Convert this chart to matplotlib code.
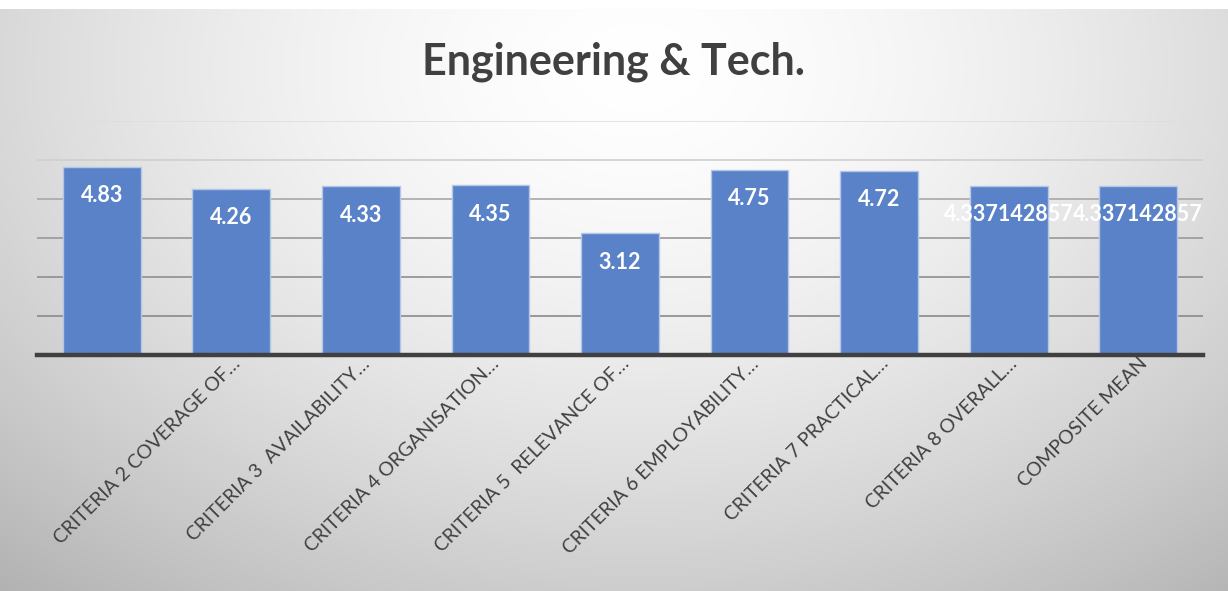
import numpy as np
import matplotlib.pyplot as plt
import matplotlib.transforms as mtransforms

# data
categories = ["",
              "CRITERIA 2 COVERAGE OF\u2026",
              "CRITERIA 3  AVAILABILITY\u2026",
              "CRITERIA 4 ORGANISATION\u2026",
              "CRITERIA 5  RELEVANCE OF\u2026",
              "CRITERIA 6 EMPLOYABILITY\u2026",
              "CRITERIA 7 PRACTICAL\u2026",
              "CRITERIA 8 OVERALL\u2026",
              "COMPOSITE MEAN"]
values = [4.83, 4.26, 4.33, 4.35, 3.12, 4.75, 4.72, 4.337142857, 4.337142857]
value_labels = ["4.83", "4.26", "4.33", "4.35", "3.12", "4.75", "4.72",
                "4.337142857", "4.337142857"]
title = "Engineering & Tech."

plt.rcParams['font.family'] = ['Lato', 'DejaVu Sans']

W, H = 1228, 591
fig = plt.figure(figsize=(W / 100, H / 100), dpi=100)

# background: soft radial gradient like the Office chart style
bg = fig.add_axes([0, 0, 1, 1 - 9 / H], zorder=-10)
yy, xx = np.mgrid[0:1:300j, 0:1:600j]
r = np.sqrt(((xx - 0.52) / 0.75) ** 2 + ((yy - 0.1) / 1.1) ** 2)
shade = 1.0 - 0.27 * np.clip(r, 0, 1.2) ** 1.6
bg.imshow(np.dstack([shade] * 3), aspect='auto', extent=[0, 1, 0, 1], origin='upper')
bg.axis('off')

ax = fig.add_axes([37 / W, 1 - 355 / H, (1203 - 37) / W, (355 - 121) / H])
ax.patch.set_alpha(0)

x = np.arange(len(values))
bars = ax.bar(x, values, width=0.6, color='#5A82C8', edgecolor='#B4C6E7',
              linewidth=1.0, zorder=3)

# gridlines, lighter towards the top
grid_cols = {1: '#8a8a8a', 2: '#8f8f8f', 3: '#999999', 4: '#a8a8a8', 5: '#cfcfcf', 6: '#dedede'}
for lvl, c in grid_cols.items():
    ax.axhline(lvl, color=c, linewidth=1.2, zorder=1)
ax.axhline(0, color='#404040', linewidth=3.2, zorder=4, clip_on=False)

for b, lab in zip(bars, value_labels):
    ax.annotate(lab, (b.get_x() + b.get_width() / 2, b.get_height()),
                xytext=(0, -29), textcoords='offset pixels',
                ha='center', va='center', color='white', fontsize=15.5,
                fontweight='bold', zorder=5)

ax.set_xlim(-0.5, len(values) - 0.5)
ax.set_ylim(0, 6)
ax.set_yticks([])
ax.set_xticks(x)
ax.set_xticklabels(categories, rotation=45, ha='right', va='top',
                   rotation_mode='anchor', fontsize=14, color='#404040')
offset = mtransforms.ScaledTranslation(8 / 100, -10 / 100, fig.dpi_scale_trans)
for t in ax.get_xticklabels():
    t.set_transform(t.get_transform() + offset)
ax.tick_params(axis='x', length=0, pad=0)
for s in ax.spines.values():
    s.set_visible(False)

fig.text(0.5, 1 - 75 / H, title, ha='center', va='baseline', fontsize=31,
         fontweight='bold', color='#404040')

fig.savefig('out.png', dpi=100)
